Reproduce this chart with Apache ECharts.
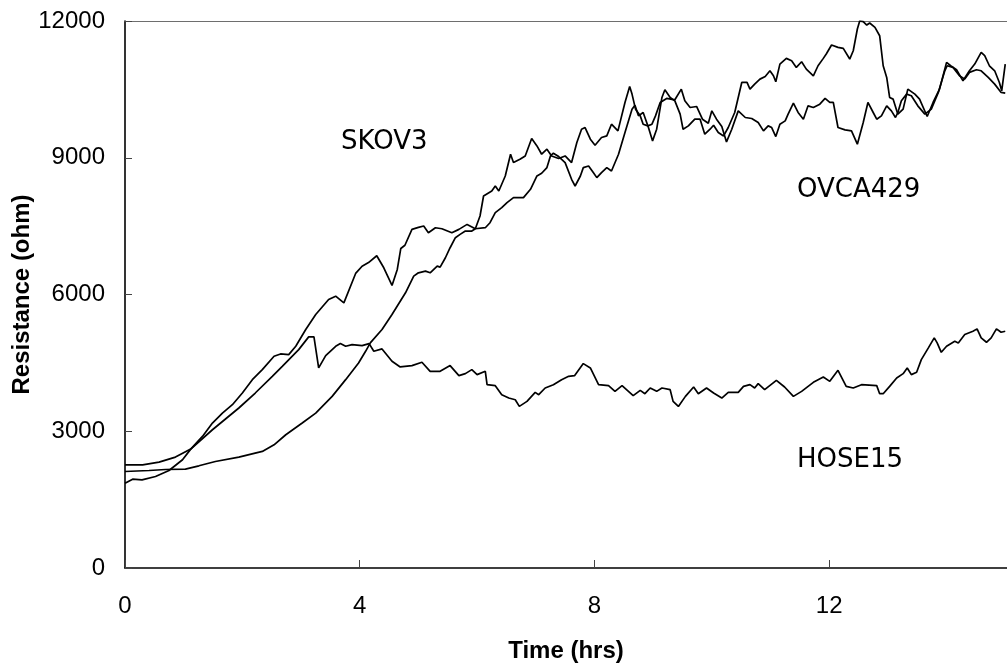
<!DOCTYPE html>
<html>
<head>
<meta charset="utf-8">
<title>Resistance over time</title>
<script src="https://cdn.jsdelivr.net/npm/echarts@6/dist/echarts.min.js"></script>
<style>
  html, body { margin: 0; padding: 0; background: #fff; }
  #chart { width: 1007px; height: 667px; }
</style>
</head>
<body>
<div id="chart"></div>
<script>
// Impedance readings (ohm) against time (hrs) for three cell lines
const skov3Hours = [0, 0.13, 0.29, 0.52, 0.75, 0.98, 1.12, 1.32, 1.49, 1.66, 1.83, 2.0, 2.17, 2.34, 2.54, 2.65, 2.79, 2.91, 3.08, 3.25, 3.47, 3.59, 3.73, 3.93, 4.04, 4.15, 4.29, 4.41, 4.55, 4.64, 4.70, 4.77, 4.89, 5.0, 5.09, 5.17, 5.29, 5.40, 5.57, 5.69, 5.83, 5.97, 6.05, 6.11, 6.25, 6.31, 6.37, 6.48, 6.57, 6.62, 6.73, 6.82, 6.93, 7.02, 7.10, 7.19, 7.27, 7.39, 7.50, 7.61, 7.70, 7.78, 7.84, 7.93, 8.01, 8.12, 8.21, 8.29, 8.40, 8.52, 8.60, 8.64, 8.70, 8.78, 8.83, 8.91, 8.98, 9.04, 9.12, 9.23, 9.37, 9.48, 9.54, 9.63, 9.74, 9.84, 9.94, 10.0, 10.08, 10.17, 10.25, 10.34, 10.45, 10.57, 10.68, 10.79, 10.88, 10.96, 11.02, 11.09, 11.16, 11.25, 11.30, 11.39, 11.47, 11.56, 11.64, 11.73, 11.84, 11.93, 12.01, 12.07, 12.15, 12.27, 12.38, 12.48, 12.58, 12.66, 12.75, 12.81, 12.89, 12.98, 13.06, 13.13, 13.17, 13.23, 13.32, 13.40, 13.51, 13.63, 13.74, 13.86, 13.97, 14.01, 14.11, 14.22, 14.31, 14.39, 14.51, 14.59, 14.71, 14.82, 14.93, 15.0];
const skov3Ohm = [1861, 1949, 1934, 2007, 2139, 2374, 2608, 2886, 3180, 3399, 3582, 3839, 4132, 4352, 4645, 4696, 4681, 4864, 5231, 5560, 5890, 5963, 5817, 6462, 6620, 6700, 6850, 6586, 6198, 6549, 7010, 7080, 7429, 7472, 7502, 7355, 7465, 7443, 7355, 7429, 7538, 7443, 7722, 8161, 8271, 8381, 8271, 8600, 9077, 8894, 8967, 9040, 9421, 9260, 9077, 9187, 9040, 8982, 9040, 8894, 9333, 9626, 9663, 9407, 9275, 9443, 9479, 9736, 9589, 10213, 10565, 10396, 10066, 9919, 9736, 9699, 9736, 9919, 10213, 10301, 10271, 10505, 10249, 10103, 10125, 9846, 9758, 10029, 9846, 9685, 9348, 9626, 10029, 9883, 9861, 9773, 9589, 9699, 9663, 9465, 9736, 9809, 9956, 10198, 9993, 9846, 10139, 10103, 10176, 10301, 10213, 10213, 9663, 9612, 9589, 9297, 9773, 10213, 9993, 9846, 9919, 10139, 10029, 9883, 9993, 10249, 10396, 10359, 10139, 9956, 10066, 10433, 10908, 11018, 10982, 10798, 10725, 10872, 10930, 10908, 10762, 10615, 10433, 10418];

const ovca429Hours = [0, 0.41, 0.69, 1.03, 1.26, 1.54, 1.94, 2.34, 2.54, 2.74, 3.02, 3.25, 3.53, 3.76, 3.98, 4.10, 4.18, 4.38, 4.55, 4.78, 4.92, 5.0, 5.12, 5.20, 5.32, 5.37, 5.46, 5.54, 5.63, 5.71, 5.80, 5.91, 5.97, 6.14, 6.22, 6.31, 6.42, 6.51, 6.62, 6.79, 6.91, 7.02, 7.10, 7.19, 7.25, 7.30, 7.39, 7.50, 7.61, 7.67, 7.76, 7.81, 7.90, 7.98, 8.04, 8.12, 8.21, 8.29, 8.41, 8.52, 8.64, 8.69, 8.75, 8.83, 8.92, 8.99, 9.06, 9.15, 9.20, 9.29, 9.37, 9.46, 9.51, 9.60, 9.71, 9.80, 9.88, 9.97, 10.03, 10.11, 10.20, 10.28, 10.39, 10.51, 10.60, 10.65, 10.73, 10.82, 10.91, 10.99, 11.05, 11.09, 11.16, 11.27, 11.36, 11.44, 11.53, 11.61, 11.73, 11.81, 11.90, 11.95, 12.04, 12.15, 12.24, 12.35, 12.41, 12.48, 12.52, 12.58, 12.64, 12.69, 12.78, 12.86, 12.92, 12.98, 13.03, 13.09, 13.17, 13.26, 13.34, 13.46, 13.54, 13.67, 13.77, 13.88, 14.0, 14.07, 14.17, 14.28, 14.39, 14.48, 14.59, 14.65, 14.73, 14.82, 14.90, 14.94, 15.0];
const ovca429Ohm = [2117, 2139, 2161, 2169, 2242, 2337, 2433, 2557, 2703, 2923, 3180, 3399, 3765, 4132, 4498, 4754, 4938, 5231, 5560, 6037, 6403, 6476, 6513, 6476, 6623, 6600, 6806, 7026, 7246, 7319, 7392, 7392, 7443, 7465, 7575, 7795, 7905, 8015, 8125, 8125, 8308, 8600, 8659, 8784, 9040, 9099, 9026, 8894, 8527, 8380, 8600, 8784, 8820, 8674, 8564, 8674, 8784, 8710, 9077, 9553, 10066, 10154, 9919, 9993, 9663, 9370, 9626, 10323, 10491, 10323, 10249, 9956, 9626, 9699, 9846, 9846, 9516, 9626, 9714, 9553, 9479, 9663, 9993, 10652, 10652, 10505, 10615, 10725, 10784, 10908, 10798, 10666, 11055, 11180, 11128, 10982, 11106, 10945, 10798, 11018, 11180, 11275, 11473, 11422, 11400, 11165, 11348, 11824, 12000, 11985, 11912, 11956, 11861, 11677, 11018, 10762, 10323, 10286, 9956, 10066, 10505, 10396, 10286, 9905, 10213, 10505, 11092, 11018, 10930, 10688, 10908, 11055, 11312, 11238, 11018, 10908, 10652, 10469, 11055];

const hose15Hours = [0, 0.30, 0.58, 0.86, 1.12, 1.49, 1.94, 2.22, 2.51, 2.68, 2.96, 3.13, 3.22, 3.30, 3.42, 3.59, 3.67, 3.76, 3.87, 4.04, 4.16, 4.24, 4.38, 4.55, 4.69, 4.89, 5.06, 5.20, 5.37, 5.54, 5.69, 5.80, 5.91, 6.0, 6.14, 6.17, 6.31, 6.42, 6.54, 6.65, 6.72, 6.85, 6.99, 7.05, 7.16, 7.30, 7.44, 7.56, 7.66, 7.81, 7.93, 8.07, 8.24, 8.35, 8.47, 8.66, 8.78, 8.86, 8.95, 9.06, 9.15, 9.29, 9.34, 9.43, 9.55, 9.69, 9.77, 9.91, 10.03, 10.17, 10.28, 10.45, 10.54, 10.65, 10.73, 10.79, 10.90, 11.10, 11.24, 11.39, 11.53, 11.73, 11.90, 12.01, 12.15, 12.29, 12.41, 12.55, 12.81, 12.86, 12.92, 13.03, 13.15, 13.26, 13.33, 13.40, 13.49, 13.57, 13.69, 13.79, 13.84, 13.91, 14.0, 14.14, 14.20, 14.31, 14.45, 14.52, 14.59, 14.68, 14.76, 14.85, 14.93, 15.0];
const hose15Ohm = [2264, 2264, 2323, 2433, 2608, 3033, 3510, 3839, 4205, 4425, 4791, 5070, 5070, 4389, 4659, 4864, 4923, 4864, 4901, 4879, 4923, 4754, 4806, 4534, 4411, 4440, 4513, 4315, 4315, 4440, 4220, 4264, 4352, 4242, 4315, 4022, 4000, 3802, 3729, 3692, 3545, 3655, 3853, 3802, 3949, 4022, 4132, 4205, 4220, 4484, 4389, 4022, 4000, 3875, 4000, 3780, 3897, 3824, 3949, 3875, 3949, 3912, 3655, 3545, 3765, 3971, 3824, 3949, 3839, 3729, 3853, 3853, 3985, 4022, 3949, 4044, 3912, 4117, 3971, 3765, 3875, 4073, 4191, 4095, 4337, 3985, 3949, 4022, 4000, 3824, 3824, 3985, 4169, 4264, 4389, 4242, 4293, 4571, 4828, 5048, 4938, 4732, 4864, 4974, 4938, 5121, 5194, 5246, 5048, 4952, 5048, 5246, 5172, 5194];

const xTickStep = 4;       // hrs between labelled ticks
const xEnd = 15.03;        // right edge of the time axis
const yTicks = [0, 3000, 6000, 9000, 12000];

const pairs = (hours, ohms) => hours.map((t, i) => [t, ohms[i]]);

const tickFont = 'Liberation Sans, Arial, sans-serif';
const noteFont = '26px "DejaVu Sans", Verdana, sans-serif';

function traceSeries(name, hours, ohms) {
  return {
    name: name,
    type: 'line',
    data: pairs(hours, ohms),
    showSymbol: false,
    smooth: false,
    silent: true,
    lineStyle: { color: '#000', width: 1.7 },
    z: 3
  };
}

const chart = echarts.init(document.getElementById('chart'), null, { renderer: 'canvas' });

chart.setOption({
  animation: false,
  backgroundColor: '#fff',
  grid: { left: 125, right: 0, top: 21, bottom: 99, containLabel: false, outerBoundsMode: 'none' },
  xAxis: [
    {
      type: 'value',
      min: 0,
      max: xEnd,
      interval: xTickStep,
      name: 'Time (hrs)',
      nameLocation: 'middle',
      nameGap: 71,
      nameMoveOverlap: false,
      nameTextStyle: { fontFamily: tickFont, fontSize: 24, fontWeight: 'bold', color: '#000' },
      axisLine: { show: true, lineStyle: { color: '#000', width: 1.6 } },
      axisTick: { show: true, inside: true, length: 8, lineStyle: { color: '#444', width: 1 } },
      axisLabel: {
        fontFamily: tickFont, fontSize: 24, color: '#000', margin: 26,
        showMaxLabel: false,
        formatter: v => (v % xTickStep === 0 ? String(v) : '')
      },
      splitLine: { show: false }
    },
    {
      type: 'value',
      position: 'top',
      min: 0,
      max: xEnd,
      axisLine: { show: true, onZero: false, lineStyle: { color: '#6e6e6e', width: 1 } },
      axisTick: { show: false },
      axisLabel: { show: false },
      splitLine: { show: false }
    }
  ],
  yAxis: {
    type: 'value',
    min: yTicks[0],
    max: yTicks[yTicks.length - 1],
    interval: yTicks[1] - yTicks[0],
    name: 'Resistance (ohm)',
    nameLocation: 'middle',
    nameGap: 91,
    nameMoveOverlap: false,
    nameTextStyle: { fontFamily: tickFont, fontSize: 24, fontWeight: 'bold', color: '#000' },
    axisLine: { show: true, lineStyle: { color: '#000', width: 1.6 } },
    axisTick: { show: true, inside: true, length: 7, lineStyle: { color: '#444', width: 1 } },
    axisLabel: { fontFamily: tickFont, fontSize: 24, color: '#000', margin: 20, formatter: v => String(v) },
    splitLine: { show: false }
  },
  series: [
    traceSeries('SKOV3', skov3Hours, skov3Ohm),
    traceSeries('OVCA429', ovca429Hours, ovca429Ohm),
    traceSeries('HOSE15', hose15Hours, hose15Ohm)
  ],
  graphic: [
    { type: 'text', x: 341, y: 142, silent: true,
      style: { text: 'SKOV3', font: noteFont, fill: '#000', align: 'left', verticalAlign: 'middle' } },
    { type: 'text', x: 797, y: 190, silent: true,
      style: { text: 'OVCA429', font: noteFont, fill: '#000', align: 'left', verticalAlign: 'middle' } },
    { type: 'text', x: 797, y: 460, silent: true,
      style: { text: 'HOSE15', font: noteFont, fill: '#000', align: 'left', verticalAlign: 'middle' } },
    // the HOSE15 caption sits in a box whose lower edge trims its baseline
    { type: 'rect', shape: { x: 792, y: 468, width: 120, height: 8 }, silent: true, z: 10,
      style: { fill: '#fff' } }
  ]
});
</script>
</body>
</html>
